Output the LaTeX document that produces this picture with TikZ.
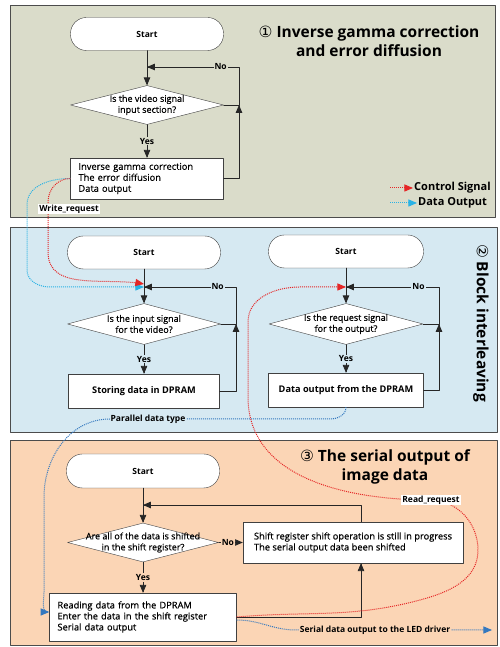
\documentclass[tikz,border=0pt]{standalone}
\usepackage{fontspec}
\setmainfont{Open Sans}
\newfontfamily\circfont{DejaVu Sans}
\newfontfamily\medfont{Open Sans}[FakeBold=0.5]
\usetikzlibrary{arrows,shapes.geometric}
\definecolor{panelgrn}{rgb}{0.855,0.863,0.792}
\definecolor{panelblu}{rgb}{0.839,0.914,0.949}
\definecolor{panelorg}{rgb}{0.984,0.835,0.71}
\definecolor{ctrlred}{rgb}{0.9,0.15,0.15}
\definecolor{datcyan}{rgb}{0.16,0.7,0.9}
\definecolor{datblue}{rgb}{0.2,0.47,0.75}

\begin{document}
\begin{tikzpicture}[line cap=round,line join=round,>=triangle 45,x=1pt,y=1pt,
  startbox/.style={draw=black!75,fill=white,rounded corners=16pt,minimum width=153pt,minimum height=33pt,inner sep=0pt,font=\bfseries\fontsize{8.5}{10}\selectfont},
  decbox/.style={draw=black!75,fill=white,diamond,aspect=3.8,inner sep=0pt,minimum width=153pt,minimum height=40pt},
  dectext/.style={align=center,inner sep=0pt,font=\medfont\fontsize{9}{11}\selectfont},
  procbox/.style={draw=black!75,fill=white,inner sep=0pt,minimum height=34pt,font=\bfseries\fontsize{9.2}{11}\selectfont},
  listbox/.style={draw=black!75,fill=white,inner xsep=8pt,inner ysep=0pt,align=left,font=\medfont\fontsize{9.3}{11}\selectfont},
  tag/.style={inner sep=1pt,font=\bfseries\fontsize{8.5}{10}\selectfont},
  legtext/.style={anchor=west,inner sep=1pt,font=\bfseries\fontsize{11}{12}\selectfont},
  title/.style={align=center,font=\bfseries\fontsize{15.5}{19}\selectfont},
  flow/.style={draw=black!85,line width=0.8pt,->},
  dots/.style={line width=1pt,line cap=butt,dash pattern=on 1pt off 1pt,->},
  ctrl/.style={dots,draw=ctrlred},
  datc/.style={dots,draw=datcyan},
  datb/.style={dots,draw=datblue}]
\useasboundingbox (0,0) rectangle (499,647);

% panels
\draw[draw=black!70,fill=panelgrn] (10,430) rectangle (495,642);
\draw[draw=black!70,fill=panelblu] (10,215) rectangle (497,420);
\draw[draw=black!70,fill=panelorg] (10,2) rectangle (497,207);

\node[title] (t1) at (369,606) {{\circfont\mdseries ①} Inverse gamma correction\\and error diffusion};
\node[title,rotate=-90] (t2) at (481,324) {{\circfont\mdseries ②} Block interleaving};
\node[title] (t3) at (385,180) {{\circfont\mdseries ③} The serial output of\\image data};

% (1) inverse gamma correction
\node[startbox] (s1) at (147,613) {Start};
\node[decbox,minimum height=39pt] (d1) at (147,542) {};
\node[dectext] (q1) at (d1) {Is the video signal\\input section?};
\node[listbox,text width=137pt,minimum height=41pt] (b1) at (147,468.5) {Inverse gamma correction\\The error diffusion\\Data output};
\coordinate (m1) at (147,580);
\coordinate (c1) at (239,542);
\draw[flow] (s1) -- (d1);
\draw[flow] (d1) -- node[tag,fill=panelgrn] (y1) {Yes} (b1);
\draw[flow] (b1.east) -| (c1);
\draw[flow] (d1.east) -- (c1) |- (m1) node[pos=0.6,tag,fill=panelgrn] (n1) {No};

% (2) block interleaving, write side
\node[startbox] (s2) at (144,394.5) {Start};
\node[decbox,minimum height=41pt] (d2) at (144,323) {};
\node[dectext] (q2) at (d2) {Is the input signal\\for the video?};
\node[procbox,minimum width=151pt] (b2) at (144,256) {Storing data in DPRAM};
\coordinate (m2) at (144,360);
\coordinate (c2) at (236,323);
\draw[flow] (s2) -- (d2);
\draw[flow] (d2) -- node[tag,fill=panelblu] (y2) {Yes} (b2);
\draw[flow] (b2.east) -| (c2);
\draw[flow] (d2.east) -- (c2) |- (m2) node[pos=0.6,tag,fill=panelblu] (n2) {No};

% (2) block interleaving, read side
\node[startbox,minimum width=155pt] (s3) at (346,395.5) {Start};
\node[decbox,minimum width=154pt,minimum height=41pt] (d3) at (346,323) {};
\node[dectext] (q3) at (d3) {Is the request signal\\for the output?};
\node[procbox,minimum width=155pt] (b3) at (346,257) {Data output from the DPRAM};
\coordinate (m3) at (346,360);
\coordinate (c3) at (439,323);
\draw[flow] (s3) -- (d3);
\draw[flow] (d3) -- node[tag,fill=panelblu] (y3) {Yes} (b3);
\draw[flow] (b3.east) -| (c3);
\draw[flow] (d3.east) -- (c3) |- (m3) node[pos=0.61,tag,fill=panelblu] (n3) {No};

% (3) serial output
\node[startbox,minimum height=34pt] (s5) at (143,176) {Start};
\node[decbox,minimum width=151pt,minimum height=39pt] (d5) at (143,104.5) {};
\node[dectext] (q5) at (d5) {Are all of the data is shifted\\in the shift register?};
\node[listbox,minimum width=220pt,minimum height=41pt,inner xsep=4pt] (r3) at (353,104.5) {Shift register shift operation is still in progress\\The serial output data been shifted};
\node[listbox,text width=171pt,minimum height=48pt] (b5) at (143,30) {Reading data from the DPRAM\\Enter the data in the shift register\\Serial data output};
\coordinate (m5) at (143,142);
\draw[flow] (s5) -- (d5);
\draw[flow] (d5) -- node[tag,fill=panelorg] (y5) {Yes} (b5);
\draw[flow] (d5) -- node[pos=0.38,tag,fill=panelorg] (n5) {No} (r3);
\draw[flow] (b5.east) -| ([xshift=8pt]r3.south);
\draw[flow] ([xshift=8pt]r3.north) |- (m5);

% signals between the blocks
\draw[datc] (b1.west) to[out=180,in=90] (27,442) -- (27,377) to[out=-90,in=180] (50,360) -- (m2);
\draw[ctrl] (b1.west) to[out=180,in=90] (48,445) -- (48,395) to[out=-90,in=170] ([yshift=3pt]m2);
\node[tag,fill=white] (wr) at (69,438) {Write\_request};
\draw[datb] (b3.south) to[out=-90,in=0] (330,228) -- (110,228) to[out=180,in=90] (44,150) -- (44,55) to[out=-90,in=180] ([yshift=5pt]b5.west);
\node[tag,fill=panelblu] (pd) at (148,228) {Parallel data type};
\draw[ctrl] (b5.east) to[out=5,in=195] (420,47) to[out=15,in=-90] (478,97) to[out=90,in=0] (430,147) to[out=180,in=-90] (248,250) -- (248,325) to[out=90,in=180] (300,360) -- (m3);
\node[tag,fill=white] (rr) at (431,147) {Read\_request};
\draw[datb] ([yshift=-3pt]b5.east) to[out=0,in=180] (296,17) -- (492,17);
\node[tag,fill=panelorg] (sd) at (375,17) {Serial data output to the LED driver};

% legend
\coordinate (lg1) at (390,459);
\coordinate (lg2) at (390,444);
\node[legtext] (lt1) at (413,459) {Control Signal};
\node[legtext] (lt2) at (417,444) {Data Output};
\draw[ctrl] (lg1) -- (lt1.west);
\draw[datc] (lg2) -- (lt2.west);
\end{tikzpicture}
\end{document}
